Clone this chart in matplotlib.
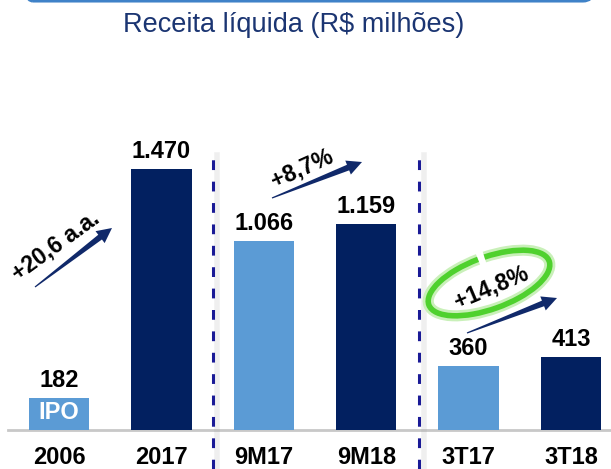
import matplotlib
matplotlib.use("Agg")
import matplotlib.pyplot as plt
from matplotlib.patches import Arc, FancyBboxPatch, Polygon
from matplotlib.transforms import IdentityTransform
import numpy as np

# dados
categories = ["2006", "2017", "9M17", "9M18", "3T17", "3T18"]
values = [182, 1470, 1066, 1159, 360, 413]
value_labels = ["182", "1.470", "1.066", "1.159", "360", "413"]
growth_labels = ["+20,6 a.a.", "+8,7%", "+14,8%"]
title = "Receita líquida (R$ milhões)"

light = "#5b9bd5"
navy = "#022060"
colors = [light, navy, light, navy, light, navy]

plt.rcParams["font.family"] = ["Liberation Sans", "DejaVu Sans"]

W, H = 611, 469
fig = plt.figure(figsize=(W / 100, H / 100), dpi=100)
ax = fig.add_axes([0, 0, 1, 1])
ax.set_xlim(-0.576, 5.39)
ax.set_ylim(-219, 2420)
ax.axis("off")


def px(xp, yp):
    # pixel da imagem (origem em cima) -> coordenadas de dados
    return ((xp - 59) / 102.4, (430 - yp) / 0.1777)


def seta(tail, head, hl=15, hw=7.5, sw=3.0, tw=0.6):
    # seta afinando na cauda, em pixels da imagem
    t = np.array([tail[0], H - tail[1]], float)
    h = np.array([head[0], H - head[1]], float)
    u = (h - t) / np.hypot(*(h - t))
    n = np.array([-u[1], u[0]])
    b = h - u * hl
    pts = [t + n * tw, b + n * sw, b + n * hw, h, b - n * hw, b - n * sw, t - n * tw]
    fig.add_artist(Polygon(pts, closed=True, transform=IdentityTransform(),
                           facecolor="#10296a", edgecolor="none"))


x = np.arange(len(categories))
ax.bar(x, values, width=0.59, color=colors, zorder=2)

# linha base
ax.plot([-0.5, 5.5], [0, 0], color="#c8c8c8", lw=2, zorder=1)

# rotulos de valor
for xi, v, lbl in zip(x, values, value_labels):
    ax.annotate(lbl, (xi, v), xytext=(0, 8), textcoords="offset points",
                ha="center", va="baseline", fontsize=17, fontweight="bold")

ax.text(0, px(0, 412)[1], "IPO", color="white", ha="center", va="center",
        fontsize=17, fontweight="bold", zorder=3)

# categorias
for xi, cat in zip(x, categories):
    ax.text(xi, px(0, 468.5)[1], cat, ha="center", va="bottom",
            fontsize=17, fontweight="bold")

# separadores
for xs in [1.5, 3.52]:
    ax.plot([xs + 0.04, xs + 0.04], [-219, px(0, 155)[1]], color="#999999",
            lw=4, alpha=0.15, zorder=1)
    ax.plot([xs, xs], [-219, px(0, 155)[1]], color="#1a1a96", lw=2.2,
            ls=(0, (3.2, 3.8)), zorder=2)

# setas de crescimento
arrows = [((35, 287), (112, 228)), ((272, 198), (362, 162)), ((467, 333), (557, 298))]
texts = [((56, 246), 36), ((302, 168), 24), ((491, 287), 23)]
for (tail, head), (pos, rot), lbl in zip(arrows, texts, growth_labels):
    seta(tail, head)
    ax.text(*px(*pos), lbl, rotation=rot, rotation_mode="anchor", ha="center",
            va="center", fontsize=16.5, fontweight="bold")

# elipse verde
ell_c = (489, H - 283)
fig.add_artist(Arc(ell_c, 128, 52, angle=20, theta1=95, theta2=440,
                   transform=IdentityTransform(), color="#c9f0b9", lw=8))
fig.add_artist(Arc(ell_c, 128, 52, angle=20, theta1=95, theta2=440,
                   transform=IdentityTransform(), color="#4fd12e", lw=4))

# moldura do titulo
fig.add_artist(FancyBboxPatch((23, H - 1), 570, 40, boxstyle="round,pad=0,rounding_size=10",
                              transform=IdentityTransform(), fill=False,
                              edgecolor="#3f82c8", lw=2.2))

fig.text(294 / W, 1 - 25 / H, title, ha="center", va="center", fontsize=19.5,
         color="#1b3572")

fig.savefig("out.png", dpi=100)
